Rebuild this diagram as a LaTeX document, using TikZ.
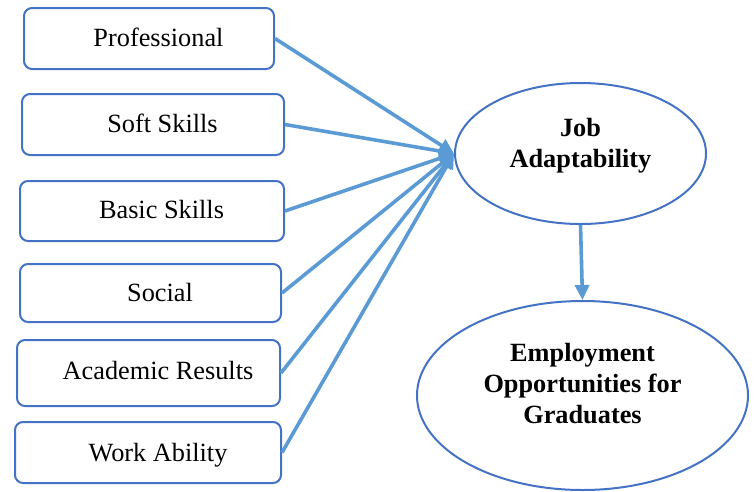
\documentclass[tikz,border=0pt]{standalone}
\usepackage{fontspec}
\setmainfont{Liberation Serif}
\usetikzlibrary{shapes.geometric,arrows.meta}
\definecolor{edgeblue}{RGB}{68,114,196}
\definecolor{arrowblue}{RGB}{91,155,213}
\begin{document}
\begin{tikzpicture}[x=1pt,y=-1pt,
  factor/.style={draw=edgeblue, line width=2pt, rounded corners=8pt,
    minimum width=#1, minimum height=61pt, inner sep=0pt},
  factortext/.style={anchor=base, inner sep=0pt, font=\fontsize{26.3}{30}\selectfont},
  outcome/.style={draw=edgeblue, line width=2pt, ellipse, inner sep=0pt},
  outtext/.style={align=center, inner sep=0pt, font=\bfseries\fontsize{26.3}{31}\selectfont},
  link/.style={draw=arrowblue, line width=3.6pt,
    -{Triangle[length=15pt,width=14pt]}}]
\useasboundingbox (0,0) rectangle (754,491);

% input factors
\node[factor=250pt] (pro) at (149,38.5) {};
\node[factor=262pt] (soft) at (153,124.5) {};
\node[factor=264pt, minimum height=60pt] (basic) at (152,211) {};
\node[factor=261pt, minimum height=58pt] (social) at (150.5,293) {};
\node[factor=263pt, minimum height=66pt] (acad) at (148.5,373) {};
\node[factor=266pt] (work) at (148,452.5) {};

\node[factortext] (proT) at ([xshift=9.5pt,yshift=-7.5pt]pro.center) {Professional};
\node[factortext] (softT) at ([xshift=9.5pt,yshift=-7.5pt]soft.center) {Soft Skills};
\node[factortext] (basicT) at ([xshift=9.5pt,yshift=-7.5pt]basic.center) {Basic Skills};
\node[factortext] (socialT) at ([xshift=9.5pt,yshift=-8.5pt]social.center) {Social};
\node[factortext] (acadT) at ([xshift=9.5pt,yshift=-6.5pt]acad.center) {Academic Results};
\node[factortext] (workT) at ([xshift=10pt,yshift=-8.5pt]work.center) {Work Ability};

% mediator and outcome
\node[outcome, minimum width=251pt, minimum height=141pt] (job) at (580.5,153.5) {};
\node[outtext] (jobT) at ([yshift=7.5pt]job.center) {Job\\Adaptability};
\node[outcome, minimum width=331pt, minimum height=189pt] (emp) at (582.5,395.5) {};
\node[outtext] (empT) at ([yshift=11.5pt]emp.center) {Employment\\Opportunities for\\Graduates};

% connectors
\foreach \src in {pro,soft,basic,social,acad,work}
  \draw[link] (\src.east) -- (job.west);
\draw[link] (job.south) -- (emp.north);
\end{tikzpicture}
\end{document}
